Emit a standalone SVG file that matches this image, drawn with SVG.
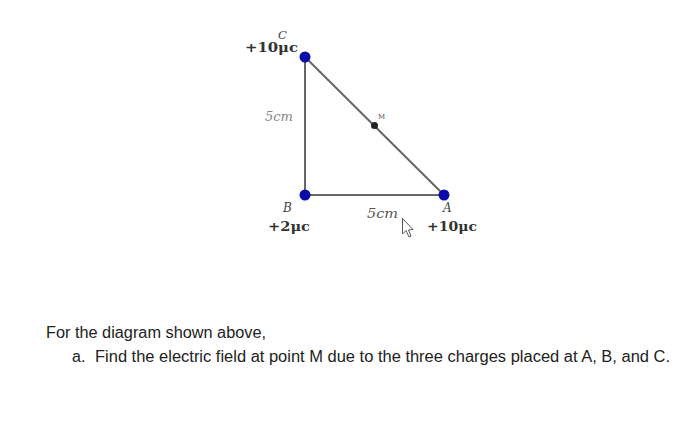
<svg xmlns="http://www.w3.org/2000/svg" width="700" height="435" viewBox="0 0 700 435">
<style>
.lbl{font-family:"DejaVu Serif","Liberation Serif",serif;font-style:italic;fill:#444;font-size:12px}
.chg{font-family:"DejaVu Serif","Liberation Serif",serif;font-weight:bold;fill:#333;font-size:12px}
.len{font-family:"DejaVu Serif","Liberation Serif",serif;font-style:italic;fill:#555;font-size:12px}
.txt{font-family:"Liberation Sans",Arial,sans-serif;fill:#222;font-size:16px}
.charge{fill:#0a0aa8}
</style>
<rect width="700" height="435" fill="#fff"/>
<g id="connectors" stroke="#666" stroke-width="2" fill="none">
<line x1="305" y1="57" x2="305" y2="195"/>
<line x1="305" y1="195" x2="444" y2="195"/>
<line x1="305" y1="57" x2="444" y2="195"/>
</g>
<g id="C"><circle class="charge" cx="305" cy="57" r="5.5"/><text class="lbl" x="278" y="39" textLength="12" style="font-size:11.5px">C</text><text class="chg" x="245" y="52" textLength="53" lengthAdjust="spacingAndGlyphs">+10μc</text></g>
<g id="B"><circle class="charge" cx="305" cy="195" r="5.5"/><text class="lbl" x="283" y="212" textLength="12">B</text><text class="chg" x="268" y="231" textLength="42" lengthAdjust="spacingAndGlyphs">+2μc</text></g>
<g id="A"><circle class="charge" cx="444" cy="195" r="5.5"/><text class="lbl" x="443" y="212" textLength="12">A</text><text class="chg" x="427" y="231" textLength="50" lengthAdjust="spacingAndGlyphs">+10μc</text></g>
<g id="M"><circle cx="374.5" cy="125.5" r="3.5" fill="#222"/><text x="378" y="119" font-family="DejaVu Serif,serif" font-size="7" fill="#555">M</text></g>
<text class="len" x="265" y="121" textLength="28" lengthAdjust="spacingAndGlyphs" style="fill:#888">5cm</text>
<text class="len" x="367" y="218" textLength="31" lengthAdjust="spacingAndGlyphs">5cm</text>
<path d="M402.5,218.5 L402.5,234 L406,230.5 L409,237 L411,236 L408.5,230 L413,229.5 Z" fill="#fff" stroke="#555" stroke-width="1"/>
<text class="txt" x="46" y="338" textLength="220" lengthAdjust="spacingAndGlyphs">For the diagram shown above,</text>
<text class="txt" x="72" y="362">a.</text>
<text class="txt" x="95" y="362" textLength="575" lengthAdjust="spacingAndGlyphs">Find the electric field at point M due to the three charges placed at A, B, and C.</text>
</svg>
